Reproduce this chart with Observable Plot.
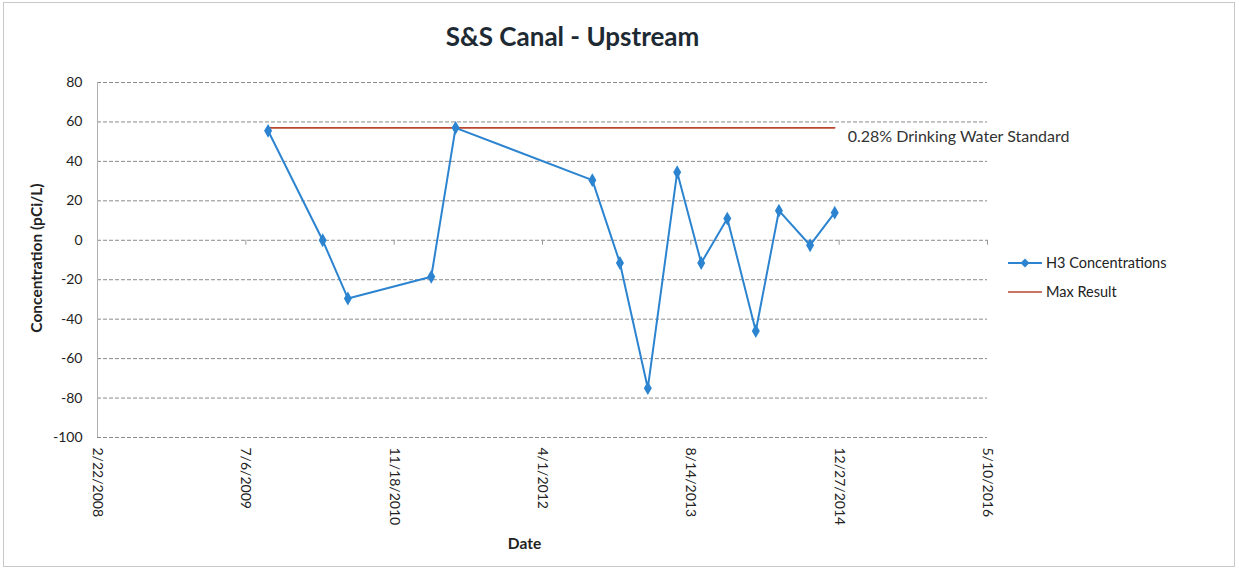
<!DOCTYPE html>
<html>
<head>
<meta charset="utf-8">
<script src="https://cdn.jsdelivr.net/npm/d3@7"></script>
<script src="https://cdn.jsdelivr.net/npm/@observablehq/plot@0.6"></script>
<style>
  html, body { margin: 0; padding: 0; background: #fff; }
  #wrap { position: relative; width: 1239px; height: 570px; font-family: Lato, "Open Sans", sans-serif; color: #222; }
  #frame { position: absolute; left: 3px; top: 2px; width: 1230px; height: 563px; border: 1px solid #c8c8c8; pointer-events: none; }
  #legend { position: absolute; left: 1008px; top: 248px; font-size: 14.5px; color: #222; }
  .item { display: flex; align-items: center; height: 29px; }
  .item svg { margin-right: 4px; }
</style>
</head>
<body>
<div id="wrap">
  <div id="chart"></div>
  <div id="frame"></div>
  <div id="legend"></div>
</div>
<script>
// ---- data ----
const sampleDates = ["2009-09-19","2010-03-22","2010-06-15","2011-03-23","2011-06-13","2012-09-16","2012-12-18","2013-03-22","2013-06-29","2013-09-18","2013-12-15","2014-03-21","2014-06-07","2014-09-20","2014-12-12"];
const h3Values = [55.5, 0, -29.5, -18.5, 57, 30.5, -11.5, -75, 34.5, -11.5, 11, -46, 15, -2.5, 14];
const xTickDates = ["2008-02-22","2009-07-06","2010-11-18","2012-04-01","2013-08-14","2014-12-27","2016-05-10"];
const yTicks = [-100, -80, -60, -40, -20, 0, 20, 40, 60, 80];
const seriesNames = ["H3 Concentrations", "Max Result"];
const titleText = "S&S Canal - Upstream";
const annotationText = "0.28% Drinking Water Standard";
const xLabel = "Date";
const yLabel = "Concentration (pCi/L)";

// ---- build ----
const parse = d3.utcParse("%Y-%m-%d");
const fmt = d3.utcFormat("%-m/%-d/%Y");
const data = sampleDates.map((d, i) => ({date: parse(d), value: h3Values[i]}));
const maxVal = d3.max(h3Values);
const maxLine = [{date: data[0].date, value: maxVal}, {date: data[data.length - 1].date, value: maxVal}];
const xTicks = xTickDates.map(parse);

const blue = "#2c84d0";
const red = "#b9482f";

const chart = Plot.plot({
  width: 1239,
  height: 570,
  marginLeft: 97,
  marginRight: 252,
  marginTop: 82,
  marginBottom: 133,
  style: {fontFamily: "Lato, 'Open Sans', sans-serif", fontSize: "14px", color: "#222", background: "transparent"},
  x: {type: "utc", domain: [xTicks[0], xTicks[xTicks.length - 1]]},
  y: {domain: [-100, 80]},
  marks: [
    Plot.gridY(yTicks, {stroke: "#8a8a8a", strokeOpacity: 1, strokeDasharray: "4,2"}),
    Plot.ruleX([xTicks[0]], {stroke: "#b0b0b0", strokeWidth: 1}),
    Plot.ruleX(xTicks.slice(1), {x: d => d, y1: 0, y2: -2.5, stroke: "#9a9a9a"}),
    Plot.axisY(yTicks, {tickSize: 0, tickPadding: 15, tickFormat: d => String(d), fontSize: 14, fill: "#222", label: null}),
    Plot.axisX(xTicks, {tickSize: 0, tickPadding: 10, tickRotate: 90, tickFormat: fmt, fontSize: 14, fill: "#222", label: null}),
    Plot.line(maxLine, {x: "date", y: "value", stroke: red, strokeWidth: 1.6}),
    Plot.line(data, {x: "date", y: "value", stroke: blue, strokeWidth: 2}),
    Plot.dot(data, {x: "date", y: "value", symbol: "diamond", r: 4.2, fill: blue, stroke: "none"}),
    Plot.text([annotationText], {x: maxLine[1].date, y: maxVal, text: d => d, dx: 13, dy: 9, textAnchor: "start", fontSize: 16, fill: "#333"}),
    Plot.text([titleText], {frameAnchor: "top", dx: 30, dy: -55, fontSize: 26, fontWeight: "bold", fill: "#1e2a33"}),
    Plot.text([yLabel], {frameAnchor: "left", textAnchor: "middle", dx: -60, dy: -2, rotate: -90, fontSize: 15.5, fontWeight: "bold", fill: "#222"}),
    Plot.text([xLabel], {frameAnchor: "bottom", dx: -18, dy: 111, fontSize: 15.5, fontWeight: "bold", fill: "#222"})
  ]
});
document.getElementById("chart").appendChild(chart);

// legend
const legend = document.getElementById("legend");
legend.innerHTML = `
  <div class="item"><svg width="34" height="12"><line x1="0" y1="6" x2="34" y2="6" stroke="${blue}" stroke-width="2"/><path d="M17,1.5 L21.5,6 L17,10.5 L12.5,6 Z" fill="${blue}"/></svg><span>${seriesNames[0]}</span></div>
  <div class="item"><svg width="34" height="12"><line x1="0" y1="6" x2="34" y2="6" stroke="${red}" stroke-width="1.6"/></svg><span>${seriesNames[1]}</span></div>`;
</script>
</body>
</html>
